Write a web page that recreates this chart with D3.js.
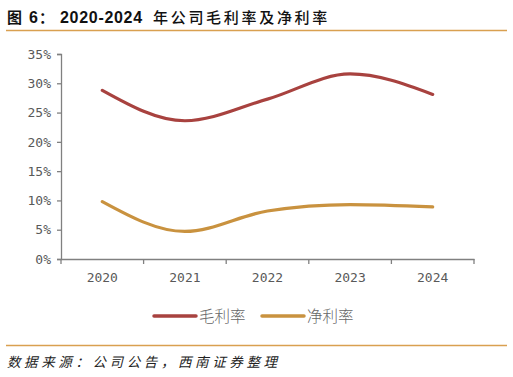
<!DOCTYPE html>
<html>
<head>
<meta charset="utf-8">
<script src="https://cdn.jsdelivr.net/npm/d3@7"></script>
<style>
  body { margin: 0; background: #fff; }
  svg { display: block; }
</style>
</head>
<body>
<div id="chart"></div>
<script>
// chart data
const years = ['2020', '2021', '2022', '2023', '2024'];
const grossMargin = [28.8, 23.6, 27.3, 31.6, 28.1];
const netMargin = [9.8, 4.7, 8.2, 9.3, 8.9];
const yTicks = [0, 5, 10, 15, 20, 25, 30, 35];
const seriesNames = ['毛利率', '净利率'];

const W = 513, H = 377;
const margin = { top: 54, right: 39, bottom: 118, left: 61 };
const width = W - margin.left - margin.right;
const height = H - margin.top - margin.bottom;
const colors = ['#a8423f', '#c9923f'];
const tickFont = "'DejaVu Sans Mono', monospace";
const cjkFont = "'Noto Sans CJK SC', sans-serif";

const svg = d3.select('#chart').append('svg')
    .attr('width', W)
    .attr('height', H);

// title, in three pieces so the spacing can follow the original
const title = svg.append('text')
    .attr('y', 23)
    .attr('fill', '#111')
    .style('font-weight', 'bold');
title.append('tspan')
    .attr('x', 7)
    .style('font-family', cjkFont)
    .style('font-size', '15px')
    .text('图');
title.append('tspan')
    .attr('x', 29)
    .style('font-family', "'Liberation Sans', sans-serif")
    .style('font-size', '16px')
    .text('6');
title.append('tspan')
    .attr('x', 39)
    .style('font-family', cjkFont)
    .style('font-size', '15px')
    .text('：');
title.append('tspan')
    .attr('x', 60)
    .style('font-family', "'Liberation Sans', sans-serif")
    .style('font-size', '16px')
    .style('letter-spacing', '0.7px')
    .text('2020-2024');
title.append('tspan')
    .attr('x', 153)
    .style('font-family', cjkFont)
    .style('font-weight', '500')
    .style('font-size', '15px')
    .style('letter-spacing', '2.7px')
    .text('年公司毛利率及净利率');

svg.append('line')
    .attr('x1', 6).attr('x2', 507)
    .attr('y1', 30.5).attr('y2', 30.5)
    .attr('stroke', '#d9a050').attr('stroke-width', 1.5);

svg.append('line')
    .attr('x1', 6).attr('x2', 507)
    .attr('y1', 345.5).attr('y2', 345.5)
    .attr('stroke', '#d9a050').attr('stroke-width', 1.5);

svg.append('text')
    .attr('x', 7)
    .attr('y', 367)
    .style('font-family', cjkFont)
    .style('font-style', 'italic')
    .style('font-size', '13.5px')
    .style('letter-spacing', '3.6px')
    .attr('fill', '#222')
    .text('数据来源：公司公告，西南证券整理');

const plot = svg.append('g')
    .attr('transform', `translate(${margin.left},${margin.top})`);

// scales
const x = d3.scaleBand().domain(years).range([0, width]);
const y = d3.scaleLinear().domain([0, 35]).range([height, 0]);

// y axis
const yAxis = plot.append('g')
    .call(d3.axisLeft(y).tickValues(yTicks).tickFormat(d => d + '%').tickSize(4).tickPadding(6));
yAxis.selectAll('path, line').attr('stroke', '#808080').attr('stroke-width', 1.3);
yAxis.selectAll('text')
    .style('font-family', tickFont)
    .style('font-size', '13px')
    .attr('fill', '#595959');

// x axis
const xAxis = plot.append('g')
    .attr('transform', `translate(0,${height})`)
    .call(d3.axisBottom(x).tickSize(0).tickPadding(14));
xAxis.select('path').attr('stroke', '#808080').attr('stroke-width', 1.3);
xAxis.selectAll('text')
    .style('font-family', tickFont)
    .style('font-size', '13px')
    .attr('fill', '#595959');
// boundary ticks between categories
const bounds = years.map(d => x(d)).concat([width]);
xAxis.selectAll('line.bound')
    .data(bounds)
    .enter()
    .append('line')
    .classed('bound', true)
    .attr('x1', d => d).attr('x2', d => d)
    .attr('y1', 0).attr('y2', 5)
    .attr('stroke', '#808080').attr('stroke-width', 1.3);

// lines
const line = d3.line()
    .x((d, i) => x(years[i]) + x.bandwidth() / 2)
    .y(d => y(d))
    .curve(d3.curveMonotoneX);

[grossMargin, netMargin].forEach((vals, i) => {
    plot.append('path')
        .datum(vals)
        .attr('d', line)
        .attr('fill', 'none')
        .attr('stroke', colors[i])
        .attr('stroke-width', 3.2)
        .attr('stroke-linecap', 'round');
});

// legend
const legendX = [154, 262];
seriesNames.forEach((name, i) => {
    const g = svg.append('g').attr('transform', `translate(${legendX[i]},316)`);
    g.append('line')
        .attr('x1', 0).attr('x2', 42)
        .attr('y1', 0).attr('y2', 0)
        .attr('stroke', colors[i])
        .attr('stroke-width', 3.5)
        .attr('stroke-linecap', 'round');
    g.append('text')
        .attr('x', 45)
        .attr('y', 6)
        .style('font-family', cjkFont)
        .style('font-weight', '300')
        .style('font-size', '15.5px')
        .attr('fill', '#666')
        .text(name);
});
</script>
</body>
</html>
